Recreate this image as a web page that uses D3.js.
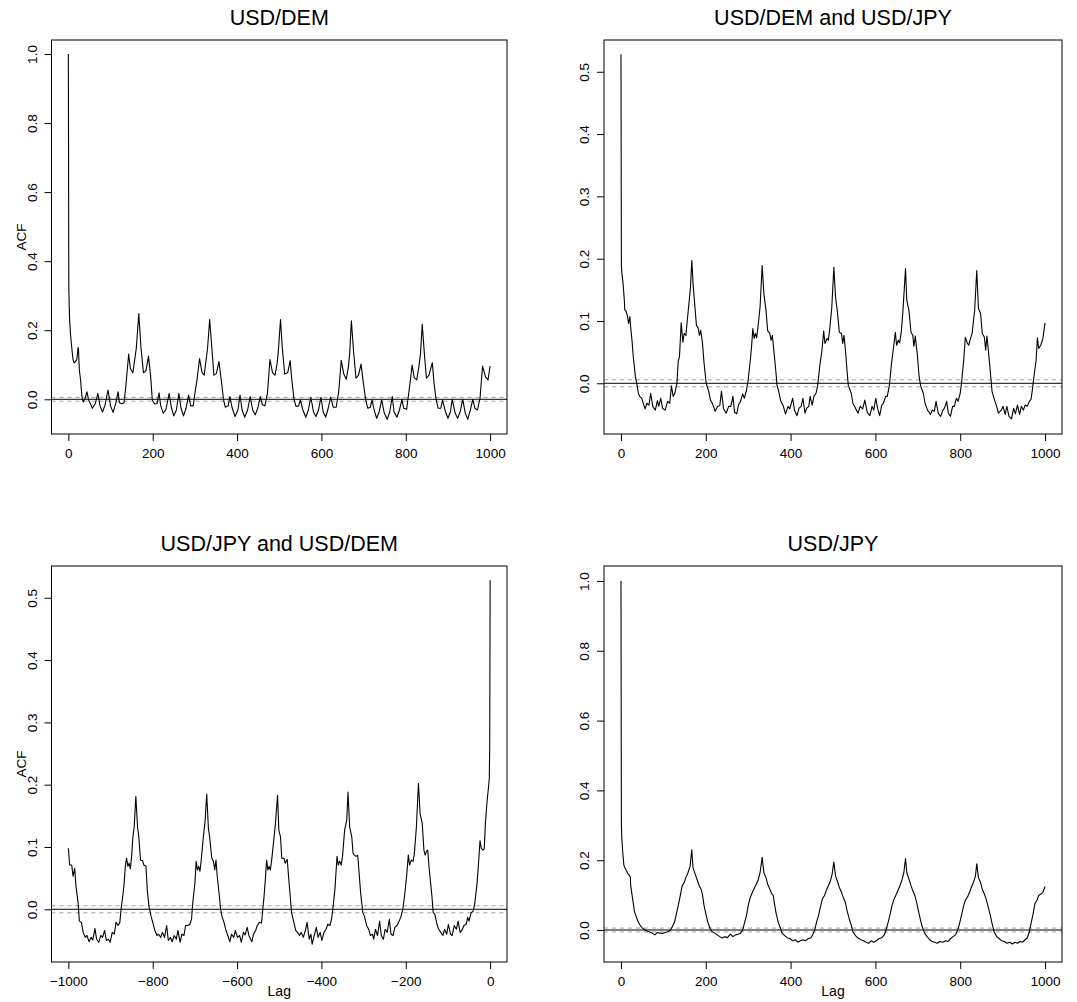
<!DOCTYPE html>
<html>
<head>
<meta charset="utf-8">
<script src="https://cdn.jsdelivr.net/npm/d3@7"></script>
<style>
  body { margin: 0; background: #fff; }
  svg { display: block; font-family: "Liberation Sans", Arial, Helvetica, sans-serif; }
</style>
</head>
<body>
<div id="acf-chart"></div>
<script>
// ── Data ──────────────────────────────────────────────────────────────────────
const TITLES = ["USD/DEM", "USD/DEM and USD/JPY", "USD/JPY and USD/DEM", "USD/JPY"];

const demAcf = [
  [0,1.0],[1,0.33],[2,0.27],[3,0.23],[5,0.19],[8,0.15],[11,0.115],[14,0.105],[17,0.11],[20,0.115],
  [23,0.15],[24,0.145],[26,0.085],[29,0.055],[32,0.01],[35,-0.008],[40,0.003],[44,0.022],[48,-0.002],
  [52,-0.012],[57,-0.026],[64,-0.012],[70,0.017],[75,-0.019],[81,-0.037],[87,-0.016],[94,0.027],
  [100,-0.019],[106,-0.038],[112,-0.013],[118,0.022],[121,-0.01],[127,-0.013],[132,-0.01],[136,0.035],
  [143,0.131],[147,0.089],[153,0.077],[156,0.104],[161,0.147],[167,0.248],[172,0.152],[178,0.077],
  [184,0.083],[190,0.125],[195,0.067],[199,-0.002],[204,-0.013],[210,-0.013],[215,0.019],[219,-0.019],
  [225,-0.04],[231,-0.031],[239,0.017],[244,-0.023],[250,-0.048],[256,-0.031],[262,0.017],[267,-0.026],
  [273,-0.048],[279,-0.026],[285,0.012],[290,-0.019],[296,-0.019],[300,0.017],[305,0.056],[311,0.118],
  [317,0.077],[322,0.07],[326,0.109],[330,0.147],[335,0.231],[340,0.152],[345,0.07],[351,0.075],
  [357,0.109],[362,0.061],[368,-0.002],[372,-0.023],[379,-0.019],[383,0.008],[388,-0.023],[395,-0.05],
  [402,-0.031],[407,0.012],[412,-0.031],[418,-0.052],[425,-0.031],[431,0.008],[437,-0.031],[443,-0.045],
  [449,-0.026],[455,0.008],[460,-0.016],[466,-0.019],[472,0.017],[478,0.115],[484,0.077],[490,0.07],
  [495,0.104],[498,0.142],[503,0.231],[507,0.152],[513,0.073],[520,0.077],[526,0.112],[529,0.065],
  [535,0.0],[540,-0.021],[546,-0.019],[550,-0.002],[556,-0.031],[563,-0.052],[569,-0.031],[575,0.006],
  [581,-0.036],[587,-0.05],[593,-0.031],[599,0.006],[604,-0.036],[610,-0.052],[616,-0.026],[622,0.006],
  [628,-0.023],[635,-0.023],[641,0.022],[647,0.113],[653,0.073],[659,0.058],[664,0.094],[667,0.133],
  [671,0.227],[676,0.142],[682,0.061],[688,0.07],[694,0.102],[699,0.051],[705,-0.002],[710,-0.026],
  [716,-0.023],[720,-0.002],[725,-0.031],[731,-0.055],[737,-0.036],[743,-0.002],[749,-0.04],[756,-0.058],
  [762,-0.036],[768,0.008],[772,-0.036],[779,-0.052],[785,-0.031],[791,0.0],[795,-0.026],[802,-0.029],
  [806,0.008],[811,0.056],[815,0.099],[820,0.063],[826,0.056],[831,0.094],[835,0.133],[839,0.217],
  [844,0.133],[849,0.061],[855,0.07],[863,0.106],[867,0.046],[872,-0.002],[877,-0.026],[883,-0.026],
  [887,-0.002],[894,-0.036],[900,-0.055],[906,-0.036],[910,0.0],[917,-0.04],[923,-0.055],[929,-0.036],
  [935,0.0],[941,-0.04],[947,-0.058],[953,-0.031],[959,0.0],[964,-0.026],[970,-0.031],[976,0.003],
  [982,0.096],[989,0.065],[995,0.056],[1000,0.096]
];

const demJpyCcf = [
  [0,0.528],[1,0.19],[2,0.178],[5,0.16],[8,0.133],[9,0.118],[12,0.116],[15,0.109],[18,0.096],[21,0.107],
  [23,0.089],[26,0.069],[29,0.043],[34,0.011],[38,-0.003],[41,-0.016],[44,-0.021],[49,-0.024],[52,-0.031],
  [57,-0.041],[61,-0.032],[66,-0.035],[70,-0.016],[75,-0.037],[81,-0.043],[86,-0.028],[89,-0.037],
  [94,-0.024],[98,-0.04],[104,-0.043],[110,-0.029],[115,-0.032],[119,-0.004],[123,-0.021],[127,-0.016],
  [132,0.0],[135,0.035],[138,0.043],[142,0.097],[146,0.066],[149,0.08],[153,0.077],[156,0.098],
  [161,0.133],[164,0.154],[167,0.197],[170,0.16],[173,0.134],[178,0.093],[182,0.089],[185,0.077],
  [188,0.085],[192,0.066],[196,0.032],[201,0.0],[207,-0.013],[211,-0.027],[216,-0.033],[222,-0.045],
  [228,-0.037],[233,-0.036],[237,-0.013],[242,-0.041],[248,-0.048],[254,-0.037],[259,-0.037],[264,-0.021],
  [268,-0.047],[273,-0.049],[277,-0.035],[282,-0.029],[287,-0.017],[291,-0.024],[296,-0.011],[300,0.006],
  [305,0.037],[308,0.059],[311,0.088],[314,0.072],[317,0.08],[320,0.073],[323,0.09],[328,0.122],
  [333,0.189],[337,0.144],[342,0.117],[346,0.084],[351,0.08],[354,0.069],[357,0.077],[360,0.056],
  [365,0.021],[368,-0.003],[372,-0.013],[377,-0.029],[383,-0.037],[388,-0.049],[394,-0.037],[398,-0.041],
  [405,-0.024],[409,-0.043],[415,-0.052],[420,-0.04],[425,-0.037],[429,-0.024],[434,-0.048],[438,-0.04],
  [443,-0.037],[446,-0.021],[451,-0.035],[455,-0.021],[460,-0.016],[464,-0.003],[469,0.029],[474,0.053],
  [478,0.084],[481,0.064],[486,0.072],[489,0.069],[492,0.086],[497,0.12],[502,0.186],[506,0.138],
  [510,0.117],[515,0.082],[520,0.08],[523,0.064],[526,0.077],[530,0.048],[533,0.021],[536,-0.003],
  [543,-0.016],[547,-0.032],[553,-0.04],[559,-0.048],[564,-0.037],[570,-0.041],[575,-0.027],[581,-0.047],
  [587,-0.052],[592,-0.037],[596,-0.043],[601,-0.024],[605,-0.04],[610,-0.052],[615,-0.035],[619,-0.032],
  [624,-0.021],[628,-0.021],[633,-0.003],[638,0.032],[642,0.053],[647,0.082],[650,0.061],[654,0.069],
  [657,0.065],[661,0.082],[665,0.117],[671,0.184],[674,0.133],[679,0.117],[684,0.082],[688,0.077],
  [691,0.059],[694,0.076],[699,0.045],[703,0.011],[707,-0.005],[713,-0.016],[717,-0.032],[723,-0.043],
  [730,-0.05],[734,-0.043],[739,-0.045],[743,-0.029],[748,-0.048],[754,-0.053],[759,-0.043],[763,-0.04],
  [768,-0.029],[772,-0.048],[777,-0.053],[782,-0.037],[786,-0.037],[791,-0.024],[795,-0.029],[800,-0.016],
  [803,0.0],[808,0.035],[812,0.074],[817,0.064],[820,0.061],[823,0.069],[828,0.08],[834,0.117],
  [839,0.181],[843,0.12],[848,0.112],[852,0.08],[857,0.074],[860,0.053],[863,0.076],[867,0.048],
  [872,0.011],[875,-0.013],[881,-0.027],[886,-0.037],[890,-0.048],[897,-0.043],[901,-0.037],[906,-0.05],
  [910,-0.037],[915,-0.053],[921,-0.057],[926,-0.04],[930,-0.049],[935,-0.035],[940,-0.05],[944,-0.037],
  [949,-0.043],[953,-0.035],[958,-0.037],[963,-0.029],[967,-0.026],[970,-0.011],[975,0.017],[979,0.037],
  [982,0.073],[985,0.056],[990,0.061],[995,0.072],[1000,0.097]
];

const jpyDemCcf = [
  [-1000,0.098],[-997,0.071],[-992,0.071],[-989,0.053],[-985,0.066],[-982,0.037],[-977,0.011],[-974,-0.019],
  [-969,-0.021],[-965,-0.037],[-960,-0.045],[-956,-0.042],[-951,-0.052],[-946,-0.045],[-942,-0.049],
  [-937,-0.031],[-933,-0.048],[-928,-0.053],[-923,-0.042],[-919,-0.045],[-914,-0.034],[-910,-0.05],
  [-905,-0.048],[-901,-0.053],[-896,-0.037],[-891,-0.04],[-887,-0.021],[-882,-0.026],[-878,-0.021],
  [-875,0.0],[-871,0.021],[-868,0.04],[-865,0.069],[-862,0.082],[-859,0.069],[-856,0.074],[-853,0.065],
  [-850,0.085],[-847,0.116],[-844,0.132],[-840,0.181],[-836,0.132],[-833,0.116],[-829,0.079],[-824,0.078],
  [-821,0.071],[-816,0.069],[-813,0.032],[-809,0.005],[-804,-0.011],[-800,-0.021],[-795,-0.034],
  [-790,-0.042],[-786,-0.04],[-781,-0.045],[-777,-0.037],[-772,-0.045],[-767,-0.026],[-763,-0.05],
  [-758,-0.045],[-754,-0.052],[-749,-0.042],[-744,-0.048],[-740,-0.034],[-735,-0.053],[-731,-0.04],
  [-726,-0.042],[-722,-0.026],[-717,-0.026],[-712,-0.024],[-708,-0.016],[-705,0.011],[-700,0.042],
  [-697,0.077],[-694,0.063],[-691,0.069],[-688,0.061],[-685,0.079],[-680,0.116],[-676,0.14],[-672,0.185],
  [-668,0.13],[-665,0.116],[-660,0.082],[-656,0.077],[-653,0.063],[-650,0.079],[-647,0.053],[-642,0.021],
  [-639,0.0],[-636,-0.011],[-631,-0.021],[-627,-0.032],[-622,-0.042],[-617,-0.052],[-613,-0.04],
  [-608,-0.045],[-604,-0.034],[-599,-0.045],[-594,-0.042],[-590,-0.053],[-585,-0.037],[-581,-0.041],
  [-576,-0.029],[-572,-0.042],[-565,-0.052],[-561,-0.04],[-556,-0.034],[-552,-0.026],[-547,-0.021],
  [-542,-0.022],[-539,0.0],[-536,0.021],[-533,0.048],[-530,0.079],[-527,0.063],[-524,0.069],[-521,0.063],
  [-518,0.079],[-513,0.111],[-509,0.138],[-504,0.183],[-501,0.127],[-497,0.116],[-494,0.082],[-489,0.082],
  [-486,0.074],[-481,0.08],[-478,0.053],[-474,0.021],[-471,-0.005],[-466,-0.019],[-461,-0.034],
  [-457,-0.037],[-452,-0.042],[-448,-0.037],[-443,-0.045],[-438,-0.034],[-434,-0.021],[-429,-0.048],
  [-425,-0.04],[-422,-0.056],[-417,-0.042],[-412,-0.029],[-408,-0.045],[-403,-0.037],[-399,-0.05],
  [-394,-0.037],[-389,-0.032],[-385,-0.024],[-380,-0.026],[-376,-0.016],[-373,0.0],[-368,0.032],
  [-363,0.085],[-360,0.071],[-357,0.077],[-353,0.071],[-350,0.085],[-345,0.127],[-340,0.143],[-337,0.188],
  [-333,0.132],[-328,0.116],[-325,0.09],[-322,0.087],[-318,0.085],[-314,0.087],[-311,0.061],[-307,0.026],
  [-302,-0.005],[-298,-0.011],[-293,-0.026],[-288,-0.032],[-284,-0.042],[-279,-0.04],[-276,-0.048],
  [-272,-0.032],[-267,-0.042],[-262,-0.019],[-258,-0.042],[-253,-0.048],[-249,-0.032],[-244,-0.037],
  [-239,-0.016],[-235,-0.04],[-230,-0.042],[-226,-0.029],[-221,-0.026],[-217,-0.021],[-212,-0.013],
  [-207,0.0],[-203,0.021],[-198,0.053],[-194,0.087],[-191,0.071],[-187,0.079],[-183,0.077],[-180,0.087],
  [-175,0.13],[-170,0.202],[-166,0.153],[-161,0.138],[-157,0.095],[-154,0.087],[-151,0.093],[-148,0.095],
  [-145,0.069],[-142,0.048],[-138,0.021],[-135,-0.005],[-131,-0.008],[-126,-0.024],[-122,-0.032],
  [-117,-0.037],[-112,-0.042],[-108,-0.032],[-103,-0.04],[-99,-0.024],[-94,-0.04],[-90,-0.042],
  [-85,-0.026],[-80,-0.032],[-76,-0.019],[-71,-0.037],[-67,-0.034],[-62,-0.026],[-57,-0.024],[-53,-0.013],
  [-50,-0.019],[-45,-0.005],[-41,-0.004],[-38,0.004],[-36,0.012],[-31,0.042],[-28,0.069],[-24,0.11],
  [-21,0.098],[-17,0.095],[-14,0.097],[-11,0.14],[-7,0.175],[-4,0.195],[-2,0.21],[-1,0.26],[0,0.528]
];

const jpyAcf = [
  [0,1.0],[1,0.3],[2,0.262],[4,0.225],[7,0.185],[12,0.172],[17,0.16],[20,0.157],[22,0.152],[23,0.127],
  [28,0.085],[32,0.052],[37,0.035],[41,0.022],[46,0.012],[51,0.005],[57,0.0],[61,-0.003],[67,-0.005],
  [74,-0.009],[80,-0.014],[86,-0.007],[92,-0.009],[98,-0.01],[104,-0.007],[110,-0.005],[117,0.0],
  [121,0.009],[126,0.022],[130,0.042],[135,0.07],[140,0.099],[144,0.125],[149,0.136],[153,0.15],
  [158,0.164],[163,0.183],[167,0.23],[170,0.178],[175,0.16],[179,0.146],[184,0.129],[189,0.117],
  [192,0.103],[196,0.07],[201,0.042],[205,0.022],[210,0.005],[215,-0.005],[221,-0.009],[227,-0.014],
  [233,-0.019],[239,-0.023],[245,-0.019],[251,-0.022],[258,-0.012],[264,-0.019],[270,-0.014],[276,-0.012],
  [282,-0.009],[287,0.0],[291,0.019],[296,0.042],[300,0.07],[305,0.094],[310,0.108],[314,0.119],
  [319,0.131],[323,0.141],[328,0.164],[333,0.208],[337,0.164],[342,0.15],[346,0.131],[351,0.117],
  [356,0.103],[359,0.099],[362,0.075],[366,0.047],[371,0.022],[376,0.005],[380,-0.009],[386,-0.016],
  [392,-0.022],[399,-0.025],[405,-0.031],[411,-0.028],[417,-0.035],[423,-0.031],[429,-0.028],[435,-0.031],
  [441,-0.025],[448,-0.022],[452,-0.014],[457,0.0],[461,0.022],[466,0.042],[471,0.07],[475,0.089],
  [480,0.099],[484,0.113],[489,0.127],[494,0.141],[498,0.16],[502,0.195],[506,0.155],[510,0.141],
  [515,0.122],[520,0.108],[524,0.094],[529,0.08],[533,0.056],[538,0.033],[543,0.014],[547,-0.005],
  [553,-0.016],[559,-0.023],[566,-0.028],[572,-0.031],[578,-0.035],[584,-0.038],[590,-0.031],[596,-0.035],
  [602,-0.031],[608,-0.025],[615,-0.022],[621,-0.014],[625,0.0],[630,0.022],[635,0.047],[639,0.07],
  [644,0.089],[648,0.099],[653,0.113],[658,0.127],[662,0.141],[667,0.164],[671,0.205],[674,0.164],
  [679,0.146],[684,0.127],[688,0.113],[693,0.099],[697,0.08],[702,0.052],[707,0.025],[711,0.007],
  [716,-0.009],[722,-0.019],[728,-0.028],[734,-0.033],[740,-0.035],[746,-0.038],[752,-0.033],[759,-0.035],
  [765,-0.031],[771,-0.033],[777,-0.025],[783,-0.019],[789,-0.014],[794,0.0],[799,0.022],[803,0.042],
  [808,0.069],[812,0.085],[817,0.094],[822,0.108],[826,0.122],[831,0.136],[836,0.155],[839,0.19],
  [843,0.15],[848,0.136],[852,0.117],[857,0.103],[861,0.089],[866,0.066],[871,0.042],[875,0.019],
  [880,-0.005],[886,-0.019],[892,-0.025],[898,-0.031],[904,-0.033],[910,-0.038],[917,-0.035],[923,-0.04],
  [929,-0.035],[935,-0.038],[941,-0.033],[947,-0.035],[953,-0.028],[958,-0.023],[963,-0.005],[967,0.019],
  [972,0.047],[976,0.075],[981,0.085],[985,0.099],[990,0.103],[995,0.108],[1000,0.125]
];

const CI_BOUND = 0.0056;   // dashed significance band ±

const POS_TICKS  = [0, 200, 400, 600, 800, 1000];
const NEG_TICKS  = [-1000, -800, -600, -400, -200, 0];
const ACF_TICKS  = [0, 0.2, 0.4, 0.6, 0.8, 1.0];
const CCF_TICKS  = [0, 0.1, 0.2, 0.3, 0.4, 0.5];

const Y_LIMITS = [[-0.1005, 1.0405], [-0.0814, 0.551], [-0.0846, 0.551], [-0.0917, 1.043]];

// ── Layout ────────────────────────────────────────────────────────────────────
const W = 1077, H = 1002;
const COLS = [{ left: 51.5, right: 507 }, { left: 604, right: 1062 }];
const ROWS = [{ top: 40, bottom: 434 }, { top: 566, bottom: 962 }];
const FONT_TICK = 13.5, FONT_TITLE = 21.5, FONT_LAB = 13.5;

const panels = [
  { title: TITLES[0], data: demAcf,    xDom: [-40, 1040],  xTicks: POS_TICKS, yTicks: ACF_TICKS, col: 0, row: 0 },
  { title: TITLES[1], data: demJpyCcf, xDom: [-40, 1040],  xTicks: POS_TICKS, yTicks: CCF_TICKS, col: 1, row: 0 },
  { title: TITLES[2], data: jpyDemCcf, xDom: [-1040, 40],  xTicks: NEG_TICKS, yTicks: CCF_TICKS, col: 0, row: 1 },
  { title: TITLES[3], data: jpyAcf,    xDom: [-40, 1040],  xTicks: POS_TICKS, yTicks: ACF_TICKS, col: 1, row: 1 },
];
panels.forEach((p, i) => p.yDom = Y_LIMITS[i]);

// ── SVG ───────────────────────────────────────────────────────────────────────
const svg = d3.select("#acf-chart")
  .append("svg")
  .attr("width", W)
  .attr("height", H);

svg.append("rect").attr("width", W).attr("height", H).attr("fill", "#fff");

// ── Draw one panel ────────────────────────────────────────────────────────────
function drawPanel(p) {
  const c = COLS[p.col], r = ROWS[p.row];
  const x = d3.scaleLinear().domain(p.xDom).range([c.left, c.right]);
  const y = d3.scaleLinear().domain(p.yDom).range([r.bottom, r.top]);
  const g = svg.append("g");

  // confidence band + zero line
  [CI_BOUND, -CI_BOUND].forEach(b => {
    g.append("line")
      .attr("x1", c.left).attr("x2", c.right)
      .attr("y1", y(b)).attr("y2", y(b))
      .attr("stroke", "#a6a6a6").attr("stroke-width", 1)
      .attr("stroke-dasharray", "4,4");
  });
  g.append("line")
    .attr("x1", c.left).attr("x2", c.right)
    .attr("y1", y(0)).attr("y2", y(0))
    .attr("stroke", "#000").attr("stroke-width", 1);

  // the acf curve
  const line = d3.line().x(d => x(d[0])).y(d => y(d[1]));
  g.append("path")
    .datum(p.data)
    .attr("d", line)
    .attr("fill", "none")
    .attr("stroke", "#000")
    .attr("stroke-width", 1.1)
    .attr("stroke-linejoin", "round");

  // box
  g.append("rect")
    .attr("x", c.left).attr("y", r.top)
    .attr("width", c.right - c.left).attr("height", r.bottom - r.top)
    .attr("fill", "none").attr("stroke", "#000").attr("stroke-width", 1);

  // x axis
  const xAxis = g.append("g")
    .attr("transform", `translate(0,${r.bottom})`)
    .call(d3.axisBottom(x).tickValues(p.xTicks).tickSize(7).tickPadding(7).tickFormat(d3.format("d")));
  xAxis.select(".domain").remove();
  xAxis.selectAll("text").attr("font-size", FONT_TICK).attr("fill", "#000").attr("font-family", null);

  // y axis (labels rotated, R style)
  const yAxis = g.append("g")
    .attr("transform", `translate(${c.left},0)`)
    .call(d3.axisLeft(y).tickValues(p.yTicks).tickSize(7).tickFormat(d3.format(".1f")));
  yAxis.select(".domain").remove();
  yAxis.selectAll("text")
    .attr("font-size", FONT_TICK).attr("fill", "#000").attr("font-family", null)
    .attr("transform", "rotate(-90)")
    .attr("x", 0).attr("y", -19.5).attr("dy", "0.35em")
    .attr("text-anchor", "middle");

  // title
  svg.append("text")
    .attr("x", (c.left + c.right) / 2).attr("y", r.top - 15)
    .attr("text-anchor", "middle")
    .attr("font-size", FONT_TITLE)
    .text(p.title);

  // axis titles: ACF on the left column, Lag on the bottom row
  if (p.col === 0) {
    svg.append("text")
      .attr("transform", `translate(${c.left - 30},${(r.top + r.bottom) / 2}) rotate(-90)`)
      .attr("dy", "0.35em")
      .attr("text-anchor", "middle")
      .attr("font-size", FONT_LAB)
      .text("ACF");
  }
  if (p.row === 1) {
    svg.append("text")
      .attr("x", (c.left + c.right) / 2).attr("y", 996)
      .attr("text-anchor", "middle")
      .attr("font-size", FONT_LAB + 0.5)
      .text("Lag");
  }
}

panels.forEach(drawPanel);
</script>
</body>
</html>
